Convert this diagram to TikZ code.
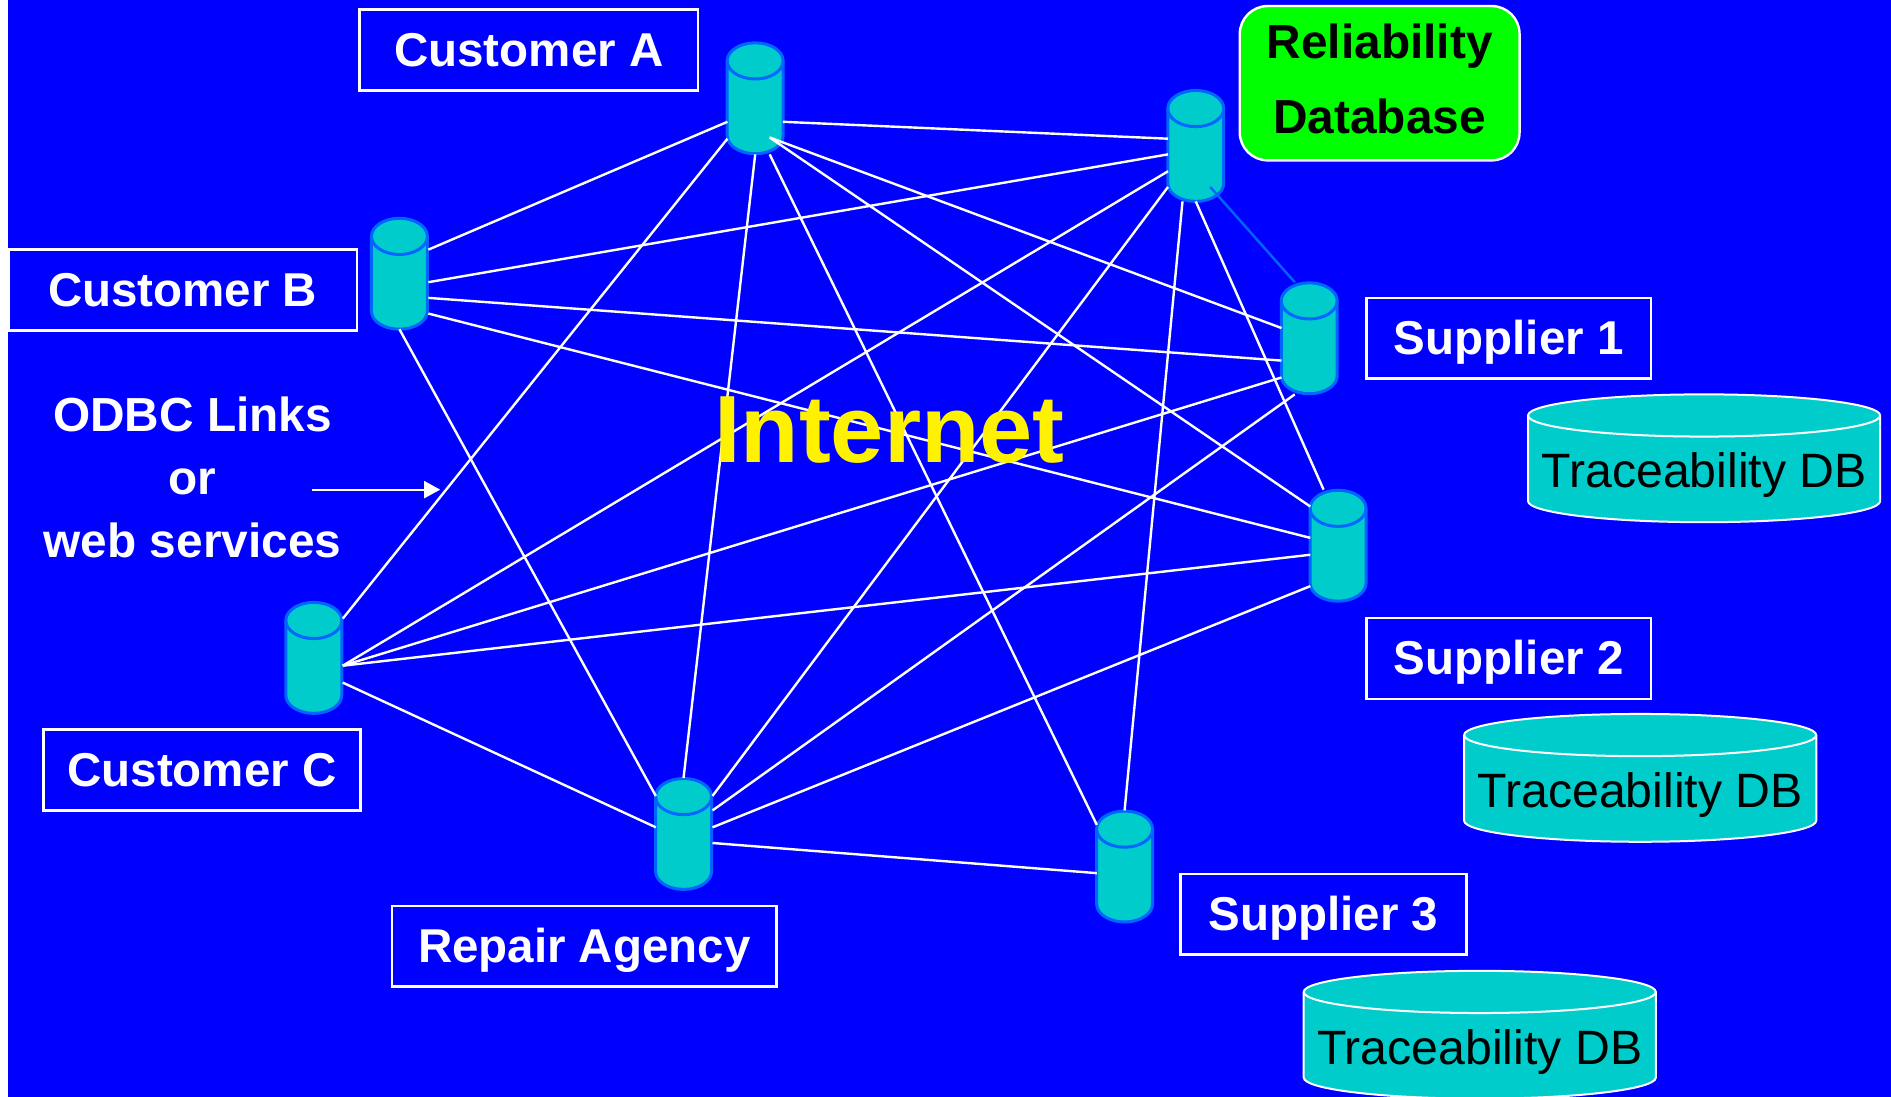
\documentclass[tikz,border=0pt]{standalone}
\usepackage{fontspec}
\setmainfont{Liberation Sans}
\usetikzlibrary{calc,arrows.meta}
\definecolor{bg}{HTML}{0000FF}
\definecolor{cyl}{HTML}{00CCCC}
\definecolor{cylb}{HTML}{0066FF}
\tikzset{
  x=1.206pt,y=-1.206pt,
  link/.style={draw=white,line width=2.4pt},
  smallcyl/.style={draw=cylb,fill=cyl,line width=3pt},
  largecyl/.style={draw=white,fill=cyl,line width=2pt},
  dbnode/.style={minimum width=48*1.206pt,minimum height=93*1.206pt,inner sep=0pt,outer sep=0pt},
  tracedb/.style={minimum width=292*1.206pt,minimum height=106*1.206pt,inner sep=0pt,outer sep=0pt,text=black},
  tracetext/.style={text=black,inner sep=0pt,font=\fontsize{48.2}{48.2}\selectfont},
  labelbox/.style={draw=white,line width=2.4pt,inner sep=0pt,text=white,text height=32.8pt,text depth=0pt,
    minimum height=67*1.206pt,font=\fontsize{47.5}{47.5}\selectfont\bfseries},
}
% #1 style, #2 centre, #3 half width, #4 half height, #5 ellipse y radius (reference units)
\newcommand{\CylBody}[5]{%
  \begin{scope}[shift={(#2)},x=1.206pt,y=1.206pt]
    \path[#1] (-#3,#4-#5) -- (-#3,-#4+#5) arc[start angle=180,end angle=360,x radius=#3,y radius=#5]
      -- (#3,#4-#5) arc[start angle=0,end angle=180,x radius=#3,y radius=#5] -- cycle;
    \draw[#1,fill=none] (-#3,#4-#5) arc[start angle=180,end angle=360,x radius=#3,y radius=#5];
  \end{scope}}
\newcommand{\Lk}[6]{\draw[link] ($(#1)+(#2,#3)$) -- ($(#4)+(#5,#6)$);}
\begin{document}
\begin{tikzpicture}
\useasboundingbox (0,0) rectangle (1568,909);
\fill[white] (-3,-3) rectangle (1572,913);
\fill[bg] (7,-3) rectangle (1572,913);
\coordinate (cA) at (626.2,81.5);
\coordinate (cR) at (991.5,121);
\coordinate (cSa) at (1085.6,280.5);
\coordinate (cSb) at (1109.5,452.5);
\coordinate (cSc) at (932.5,718.5);
\coordinate (cP) at (566.8,691.5);
\coordinate (cC) at (260.2,545.5);
\coordinate (cB) at (331.2,227);
\foreach \n in {cA,cR,cSa,cSb,cSc,cP,cC,cB}{\CylBody{smallcyl}{\n}{23.2}{46}{15}}
\node[dbnode] (A) at (cA) {};
\node[dbnode] (R) at (cR) {};
\node[dbnode] (S1) at (cSa) {};
\node[dbnode] (S2) at (cSb) {};
\node[dbnode] (S3) at (cSc) {};
\node[dbnode] (P) at (cP) {};
\node[dbnode] (C) at (cC) {};
\node[dbnode] (B) at (cB) {};
% links
\Lk{A}{23}{19.5}{R}{-23}{-6}
\Lk{A}{-23}{19.5}{B}{24}{-20}
\Lk{A}{-23}{33.5}{C}{24}{-32.5}
\Lk{A}{0}{46.5}{P}{0}{-46.5}
\Lk{A}{12}{46.5}{S3}{-23}{-34.5}
\Lk{A}{12}{32.5}{S1}{-23}{-8.5}
\Lk{A}{12}{32.5}{S2}{-23}{-32.5}
\Lk{B}{24}{7}{R}{-23}{7}
\Lk{B}{24}{20}{S1}{-23}{18.5}
\Lk{B}{24}{33}{S2}{-23}{-6.5}
\Lk{B}{0}{46}{P}{-23}{-31.5}
\Lk{C}{24}{6.5}{R}{-23}{21}
\Lk{C}{24}{6.5}{S1}{-23}{32.5}
\Lk{C}{24}{6.5}{S2}{-23}{7.5}
\Lk{C}{24}{20.5}{P}{-23}{-5.5}
\Lk{P}{24}{-31.5}{R}{-23}{34}
\Lk{P}{24}{-19.5}{S1}{-12}{46.5}
\Lk{P}{24}{-5.5}{S2}{-23}{33.5}
\Lk{P}{24}{7.5}{S3}{-23}{5.5}
\Lk{S3}{0}{-46.5}{R}{-11}{46}
\Lk{R}{0}{46}{S2}{-12}{-46.5}
\draw[draw=cylb,line width=2.4pt] ($(R)+(12,34)$) -- ($(S1)+(-12,-46.5)$);
% labels
\node[labelbox,minimum width=281*1.206pt] (lA) at (438.5,41.5) {Customer A};
\node[labelbox,minimum width=289*1.206pt] (lB) at (151.5,240.5) {Customer B};
\node[labelbox,minimum width=263*1.206pt] (lC) at (167.5,638.5) {Customer C};
\node[labelbox,minimum width=319*1.206pt] (lP) at (484.5,784.5) {Repair Agency};
\node[labelbox,minimum width=236*1.206pt] (lS1) at (1251,280.5) {Supplier 1};
\node[labelbox,minimum width=236*1.206pt] (lS2) at (1251,546) {Supplier 2};
\node[labelbox,minimum width=237*1.206pt] (lS3) at (1097.5,758) {Supplier 3};
\node[draw=white,fill=green,line width=2.4pt,rounded corners=28pt,minimum width=232*1.206pt,minimum height=128*1.206pt,
  inner sep=0pt] (rel) at (1144,69) {};
\node[align=center,text=black,inner sep=0pt,font=\fontsize{47.8}{75}\selectfont\bfseries] (reltext) at (1144,65.5) {Reliability\\Database};
% traceability databases
\coordinate (cTa) at (1413,380);
\coordinate (cTb) at (1360,645);
\coordinate (cTc) at (1227,858);
\foreach \n in {cTa,cTb,cTc}{\CylBody{largecyl}{\n}{146}{53}{17.5}}
\node[tracedb] (T1) at (cTa) {};
\node[tracedb] (T2) at (cTb) {};
\node[tracedb] (T3) at (cTc) {};
\node[tracetext] (t1) at (1413,394) {Traceability DB};
\node[tracetext] (t2) at (1360,659) {Traceability DB};
\node[tracetext] (t3) at (1227,872) {Traceability DB};
\node[text=white,align=center,font=\fontsize{47.8}{63}\selectfont\bfseries] (odbc) at (159.7,396) {ODBC Links\\or\\web services};
\coordinate (arrS) at (259,406);
\coordinate (arrE) at (365,406);
\draw[white,line width=2pt,-{Triangle[length=16pt,width=17pt]}] (arrS) -- (arrE);
\node[text=yellow,font=\fontsize{95.6}{95.6}\selectfont\bfseries] (net) at (737.5,357) {Internet};
\end{tikzpicture}
\end{document}
